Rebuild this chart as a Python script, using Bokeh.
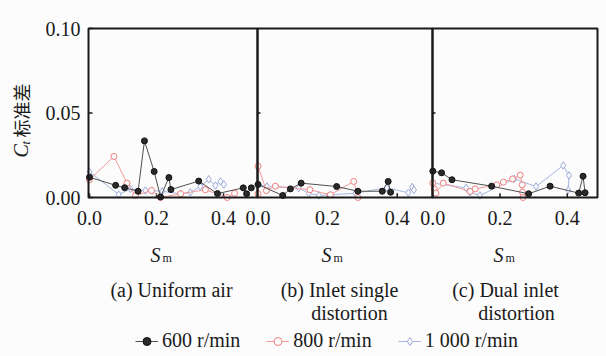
from bokeh.plotting import figure
from bokeh.models import Range1d, Label, Legend, LegendItem
from bokeh.embed import file_html
from bokeh.resources import INLINE

# ---------------- data ----------------
x_ticks = [0.0, 0.2, 0.4]
x_tick_labels = ["0.0", "0.2", "0.4"]
y_ticks = [0.0, 0.05, 0.10]
y_tick_labels = ["0.00", "0.05", "0.10"]

series_names = ["600 r/min", "800 r/min", "1 000 r/min"]
panel_titles = [["(a) Uniform air"], ["(b) Inlet single", "distortion"], ["(c) Dual inlet", "distortion"]]

# (a) Uniform air
a_x600 = [0.0, 0.078, 0.105, 0.145, 0.164, 0.193, 0.212, 0.237, 0.243, 0.326, 0.382, 0.459, 0.469, 0.483]
a_y600 = [0.012, 0.0072, 0.0058, 0.0037, 0.0335, 0.0154, 0.0003, 0.0118, 0.0047, 0.0097, 0.0023, 0.0057, 0.0022, 0.0057]
a_x800 = [0.0, 0.073, 0.112, 0.137, 0.185, 0.212, 0.272, 0.346, 0.411, 0.433]
a_y800 = [0.0105, 0.0243, 0.0085, 0.0012, 0.0041, 0.0, 0.0022, 0.0046, 0.0, 0.0025]
a_x1000 = [0.0, 0.087, 0.122, 0.167, 0.187, 0.217, 0.272, 0.301, 0.331, 0.356, 0.376, 0.391, 0.401]
a_y1000 = [0.0152, 0.0018, 0.0051, 0.0041, 0.0041, 0.0037, 0.0022, 0.0031, 0.0065, 0.0108, 0.0071, 0.0095, 0.0077]

# (b) Inlet single distortion
b_x600 = [0.0, 0.071, 0.093, 0.124, 0.226, 0.287, 0.357, 0.374, 0.381]
b_y600 = [0.0077, 0.0012, 0.0051, 0.0085, 0.0065, 0.0037, 0.0037, 0.0095, 0.0031]
b_x800 = [0.0, 0.0, 0.024, 0.05, 0.149, 0.208, 0.275, 0.287]
b_y800 = [0.0022, 0.0185, 0.0041, 0.0067, 0.0046, 0.0016, 0.0095, 0.0]
b_x1000 = [0.0, 0.026, 0.117, 0.146, 0.175, 0.28, 0.37, 0.432, 0.443, 0.448]
b_y1000 = [0.0078, 0.0065, 0.0056, 0.0025, 0.0012, 0.0025, 0.0058, 0.0028, 0.0062, 0.0045]

# (c) Dual inlet distortion
c_x600 = [0.0, 0.026, 0.057, 0.175, 0.285, 0.349, 0.434, 0.447, 0.453]
c_y600 = [0.0156, 0.0146, 0.0105, 0.0067, 0.0022, 0.0067, 0.0026, 0.0126, 0.0028]
c_x800 = [0.0, 0.004, 0.009, 0.031, 0.111, 0.126, 0.19, 0.21, 0.237, 0.26, 0.266, 0.267, 0.268]
c_y800 = [0.0085, 0.0051, 0.0026, 0.0085, 0.0036, 0.0051, 0.0075, 0.0091, 0.011, 0.0132, 0.0075, 0.0031, 0.0]
c_x1000 = [0.0, 0.099, 0.111, 0.14, 0.242, 0.307, 0.388, 0.405, 0.403]
c_y1000 = [0.0085, 0.0057, 0.0031, 0.0012, 0.011, 0.0065, 0.019, 0.013, 0.0044]

panels_data = [
    [(a_x600, a_y600), (a_x800, a_y800), (a_x1000, a_y1000)],
    [(b_x600, b_y600), (b_x800, b_y800), (b_x1000, b_y1000)],
    [(c_x600, c_y600), (c_x800, c_y800), (c_x1000, c_y1000)],
]

# ---------------- layout / style ----------------
W, H = 606, 356
PLOT_TOP, PLOT_BOTTOM = 28, 197          # canvas px of the plotting area
Y_MIN, Y_MAX = 0.0, 0.10
panel_layout = [(88, 257, -0.003, 0.5015), (257, 432, -0.0015, 0.5014), (432, 597, -0.001, 0.490)]
SERIF = "Liberation Serif"
INK = "#1a1a1a"
BG = "#fcfcfc"

ky = (Y_MAX - Y_MIN) / (PLOT_BOTTOM - PLOT_TOP)
y_start = Y_MIN - (H - PLOT_BOTTOM) * ky
y_end = Y_MAX + PLOT_TOP * ky

p = figure(width=W, height=H, output_backend="svg", toolbar_location=None,
           x_range=Range1d(0, W), y_range=Range1d(y_start, y_end),
           x_axis_location=None, y_axis_location=None, min_border=0,
           background_fill_color=BG, border_fill_color=BG)
p.grid.visible = False
p.outline_line_color = None

extra = {}
for i, (L, R, a, b) in enumerate(panel_layout):
    k = (b - a) / (R - L)
    start = a - L * k
    extra[f"p{i}"] = Range1d(start, start + W * k)
p.extra_x_ranges = extra


def sy(canvas_y):
    return H - canvas_y


def text_label(**kw):
    base = dict(text_font=SERIF, text_font_size="20px", text_color=INK)
    base.update(kw)
    p.add_layout(Label(**base))


left0 = panel_layout[0][0]
p.segment(x0=[left0] * len(y_ticks), y0=y_ticks, x1=[left0 + 4] * len(y_ticks), y1=y_ticks,
          line_color=INK, line_width=1.5)
for (L, R, a, b) in panel_layout[1:]:
    p.segment(x0=[L], y0=[y_ticks[1]], x1=[L + 3], y1=[y_ticks[1]], line_color=INK, line_width=1.5)
for t, lab in zip(y_ticks, y_tick_labels):
    text_label(x=left0 - 8, y=t, text=lab, text_align="right", text_baseline="middle")

styles = [
    dict(line="#505050", marker="circle", size=6, fill="#2a2a2a", edge="#111111"),
    dict(line="#f29a9a", marker="circle", size=6, fill=BG, edge="#ee7f7f"),
    dict(line="#a7b6e0", marker="diamond", size=7.5, fill=BG, edge="#9aaadc"),
]

legend_renderers = []
for i, pdata in enumerate(panels_data):
    rn = f"p{i}"
    p.segment(x0=x_ticks, y0=[Y_MIN] * len(x_ticks), x1=x_ticks, y1=[Y_MIN + 0.0025] * len(x_ticks),
              x_range_name=rn, line_color=INK, line_width=1.5)
    for s in (2, 1, 0):
        xs, ys = pdata[s]
        st = styles[s]
        lr = p.line(xs, ys, x_range_name=rn, line_color=st["line"], line_width=1)
        sr = p.scatter(xs, ys, x_range_name=rn, marker=st["marker"], size=st["size"],
                       fill_color=st["fill"], line_color=st["edge"], line_width=1)
        if i == 0:
            legend_renderers.append((s, lr, sr))
    for t, lab in zip(x_ticks, x_tick_labels):
        text_label(x=t, x_range_name=rn, y=sy(217.5), y_units="screen", text=lab,
                   text_align="center", text_baseline="alphabetic")

# panel frames
p.quad(left=[pl[0] for pl in panel_layout], right=[pl[1] for pl in panel_layout],
       bottom=Y_MIN, top=Y_MAX, fill_color=None, line_color=INK, line_width=2)

for cx in (150, 321, 493):
    text_label(x=cx, y=sy(254), x_units="screen", y_units="screen", text="S",
               text_font_style="italic", text_align="left", text_baseline="alphabetic")
    text_label(x=cx + 12, y=sy(257), x_units="screen", y_units="screen", text="m",
               text_font_size="12px", text_align="left", text_baseline="alphabetic")

caption_pos = [[(171, 289)], [(339, 289), (349, 312)], [(505, 289), (516, 312)]]
for lines, poss in zip(panel_titles, caption_pos):
    for txt, (cx, cy) in zip(lines, poss):
        text_label(x=cx, y=sy(cy), x_units="screen", y_units="screen", text=txt,
                   text_align="center", text_baseline="alphabetic")

text_label(x=20, y=sy(157), x_units="screen", y_units="screen", text="C", angle=90,
           angle_units="deg", text_font_style="italic", text_align="left", text_baseline="middle")
text_label(x=25, y=sy(144), x_units="screen", y_units="screen", text="t", angle=90,
           angle_units="deg", text_font_style="italic", text_font_size="12px",
           text_align="left", text_baseline="middle")
text_label(x=20, y=sy(137), x_units="screen", y_units="screen", text="标准差", angle=90,
           angle_units="deg", text_font="Noto Sans CJK SC", text_font_size="18px",
           text_align="left", text_baseline="middle")

legend_renderers.sort(key=lambda t: t[0])
items = [LegendItem(label=series_names[s], renderers=[lr, sr]) for s, lr, sr in legend_renderers]
legend = Legend(items=items, orientation="horizontal", location=(135, sy(352)),
                border_line_color=None, background_fill_alpha=0,
                label_text_font=SERIF, label_text_font_size="20px", label_text_color=INK,
                glyph_width=23, glyph_height=20, label_height=20, label_standoff=4,
                spacing=26, padding=0, margin=0)
p.add_layout(legend)

open("out.html", "w").write(file_html(p, INLINE))
